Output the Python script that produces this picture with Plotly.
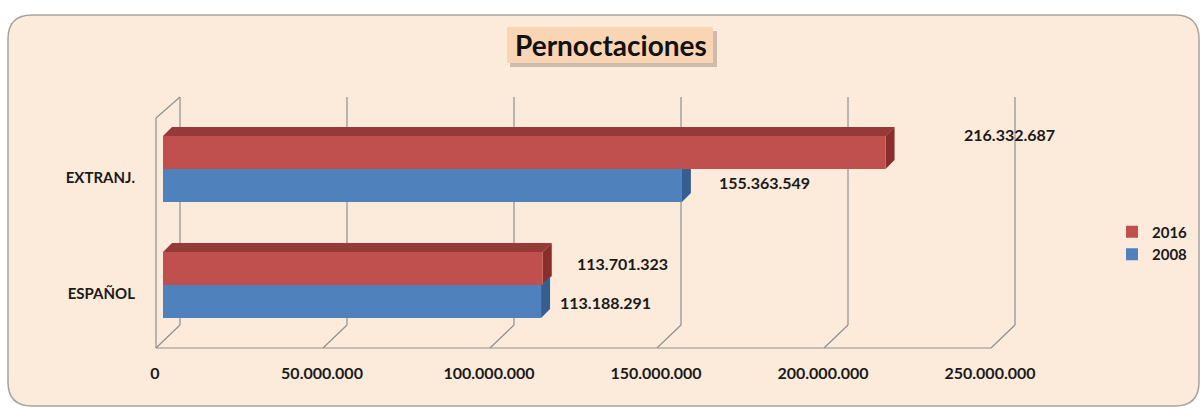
import plotly.graph_objects as go

# ---------------- data ----------------
categories = ["ESPAÑOL", "EXTRANJ."]
series_names = ["2016", "2008"]
values_2016 = [113701323, 216332687]
values_2008 = [113188291, 155363549]
x_tickvals = [0, 50000000, 100000000, 150000000, 200000000, 250000000]
x_ticktext = ["0", "50.000.000", "100.000.000", "150.000.000", "200.000.000", "250.000.000"]
title_text = "Pernoctaciones"

# ---------------- layout geometry (pixels) ----------------
W, H = 1203, 410
L, R = 150, 1020          # plot area left/right (px)
T, B = 97, 348            # plot area top/bottom (px)
X0PX, X250PX = 163, 998   # pixel positions of 0 and 250M on the bar plane
s = 250e6 / (X250PX - X0PX)   # data units per pixel
xr = [-(X0PX - L) * s, 250e6 + (R - X250PX) * s]
cat_px = 116.0            # pixels per category step
yr = [-(B - 285) / cat_px, (285 - T) / cat_px]
dy_cat = 9 / cat_px       # 3D depth in category units
dx = 9 * s                # 3D depth in data units
bw = 33 / cat_px          # bar thickness

def px(p):
    return (p - L) / (R - L)

def py(p):
    return (B - p) / (B - T)

FONT = "Lato"
RED, RED_TOP, RED_SIDE = "#C0504D", "#953A37", "#8A2E2B"
BLUE, BLUE_TOP, BLUE_SIDE = "#4F81BD", "#3F6CA3", "#365F91"
GRID = "#8F8F8F"
TXT = "#1A1A1A"

fig = go.Figure()
fig.add_trace(go.Bar(name=series_names[0], y=categories, x=values_2016, orientation="h",
                     marker=dict(color=RED, line=dict(width=0)), width=bw, offset=0))
fig.add_trace(go.Bar(name=series_names[1], y=categories, x=values_2008, orientation="h",
                     marker=dict(color=BLUE, line=dict(width=0)), width=bw, offset=-bw))

shapes = []
# outer rounded frame
fx0, fy0, fx1, fy1, rad = 8, 15, 1199, 406, 24
path = (f"M {px(fx0+rad)},{py(fy0)} L {px(fx1-rad)},{py(fy0)} "
        f"Q {px(fx1)},{py(fy0)} {px(fx1)},{py(fy0+rad)} L {px(fx1)},{py(fy1-rad)} "
        f"Q {px(fx1)},{py(fy1)} {px(fx1-rad)},{py(fy1)} L {px(fx0+rad)},{py(fy1)} "
        f"Q {px(fx0)},{py(fy1)} {px(fx0)},{py(fy1-rad)} L {px(fx0)},{py(fy0+rad)} "
        f"Q {px(fx0)},{py(fy0)} {px(fx0+rad)},{py(fy0)} Z")
shapes.append(dict(type="path", xref="paper", yref="paper", path=path,
                   fillcolor="#FCEADB", line=dict(color="#A8A29C", width=1.5), layer="below"))

# title box with shadow
shapes.append(dict(type="rect", xref="paper", yref="paper", x0=px(510), x1=px(717), y0=py(31), y1=py(67),
                   fillcolor="rgba(120,100,90,0.35)", line=dict(width=0), layer="below"))
shapes.append(dict(type="rect", xref="paper", yref="paper", x0=px(507), x1=px(713), y0=py(27), y1=py(63),
                   fillcolor="#FAD5B4", line=dict(width=0), layer="below"))

# 3D gridlines / walls
back_off = 17 * s
front_off = -7 * s
yb_back = py(325)
for v in x_tickvals:
    shapes.append(dict(type="line", xref="x", yref="paper", x0=v + back_off, x1=v + back_off,
                       y0=yb_back, y1=py(97), line=dict(color=GRID, width=1.2), layer="below"))
    shapes.append(dict(type="line", xref="x", yref="paper", x0=v + back_off, x1=v + front_off,
                       y0=yb_back, y1=py(348), line=dict(color=GRID, width=1.2), layer="below"))
shapes.append(dict(type="line", xref="x", yref="paper", x0=front_off, x1=x_tickvals[-1] + front_off,
                   y0=py(348), y1=py(348), line=dict(color=GRID, width=1.2), layer="below"))
shapes.append(dict(type="line", xref="x", yref="paper", x0=front_off, x1=front_off,
                   y0=py(348), y1=py(118), line=dict(color=GRID, width=1.2), layer="below"))
shapes.append(dict(type="line", xref="x", yref="paper", x0=front_off, x1=back_off,
                   y0=py(118), y1=py(97), line=dict(color=GRID, width=1.2), layer="below"))

# 3D faces of bars
for i, c in enumerate(range(len(categories))):
    v = values_2016[i]
    shapes.append(dict(type="path", xref="x", yref="y", layer="below",
                       path=f"M 0,{c+bw} L {v},{c+bw} L {v+dx},{c+bw+dy_cat} L {dx},{c+bw+dy_cat} Z",
                       fillcolor=RED_TOP, line=dict(width=0)))
    shapes.append(dict(type="path", xref="x", yref="y", layer="below",
                       path=f"M {v},{c} L {v},{c+bw} L {v+dx},{c+bw+dy_cat} L {v+dx},{c+dy_cat} Z",
                       fillcolor=RED_SIDE, line=dict(width=0)))
    v = values_2008[i]
    shapes.append(dict(type="path", xref="x", yref="y", layer="below",
                       path=f"M {v},{c-bw} L {v},{c} L {v+dx},{c+dy_cat} L {v+dx},{c-bw+dy_cat} Z",
                       fillcolor=BLUE_SIDE, line=dict(width=0)))

def fmt(v):
    return f"{v:,}".replace(",", ".")

annotations = [dict(text=title_text, xref="paper", yref="paper", x=px(611), y=py(45),
                    showarrow=False, font=dict(family=FONT, size=28, color="#111111", weight="bold"),
                    xanchor="center", yanchor="middle")]
label_shifts_2016 = [(32, 22), (76, 35)]
label_shifts_2008 = [(17, -17), (35, -13)]
for i, cat in enumerate(categories):
    for vals, shifts in ((values_2016, label_shifts_2016), (values_2008, label_shifts_2008)):
        annotations.append(dict(text=fmt(vals[i]), x=vals[i], y=cat, xref="x", yref="y",
                                xanchor="left", yanchor="middle", showarrow=False,
                                xshift=shifts[i][0], yshift=shifts[i][1],
                                font=dict(family=FONT, size=16, color=TXT, weight="bold")))

fig.update_layout(
    width=W, height=H,
    margin=dict(l=L, r=W - R, t=T, b=H - B, pad=0, autoexpand=False),
    paper_bgcolor="white", plot_bgcolor="rgba(0,0,0,0)",
    barmode="overlay",
    showlegend=True,
    legend=dict(x=px(1112), y=py(243), xanchor="left", yanchor="middle",
                bgcolor="rgba(0,0,0,0)", font=dict(family=FONT, size=15, color=TXT, weight="bold"),
                itemwidth=30, tracegroupgap=2),
    shapes=shapes, annotations=annotations,
    xaxis=dict(range=xr, tickvals=x_tickvals, ticktext=x_ticktext, automargin=False,
               showgrid=False, zeroline=False, showline=False, ticks="",
               tickfont=dict(family=FONT, size=16, color=TXT, weight="bold"),
               ticklabelshift=-8, ticklabelstandoff=14, fixedrange=True),
    yaxis=dict(type="category", range=yr, categoryorder="array", categoryarray=categories,
               tickvals=categories, automargin=False,
               showgrid=False, zeroline=False, showline=False, ticks="",
               tickfont=dict(family=FONT, size=15, color=TXT, weight="bold"),
               ticklabelshift=9, ticklabelstandoff=14, fixedrange=True),
)

fig.write_html("out.html", config={"displayModeBar": False},
               post_script="document.body.style.margin='0';")
